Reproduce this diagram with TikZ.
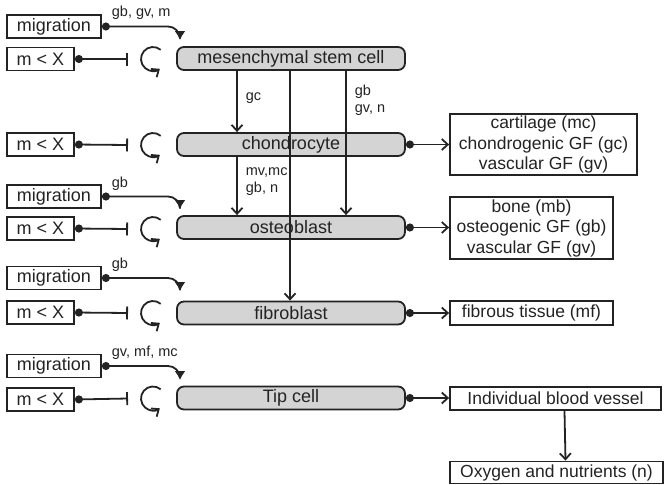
\documentclass[tikz,border=0pt]{standalone}
\usepackage{fontspec}
\setmainfont{Liberation Sans}
\usetikzlibrary{arrows.meta}

\definecolor{ink}{RGB}{35,35,35}
\definecolor{cellfill}{RGB}{212,212,212}

\begin{document}
\begin{tikzpicture}[x=1pt, y=-1pt, ink, line width=1.8pt,
  cell/.style={draw, fill=cellfill, rounded corners=7pt, minimum width=228pt, minimum height=23pt, inner sep=0pt, font=\fontsize{18}{20}\selectfont},
  cue/.style={draw, minimum height=23pt, inner sep=0pt, font=\fontsize{18}{20}\selectfont},
  product/.style={draw, align=center, inner sep=0pt, font=\fontsize{17.5}{20.5}\selectfont},
  small/.style={inner sep=0pt, anchor=base west, font=\fontsize{14.5}{17}\selectfont},
  arr/.style={-{Straight Barb[length=6pt, width=11pt]}},
  dotarr/.style={{Circle[length=8pt]}-{Straight Barb[length=6pt, width=11pt]}},
  mig/.style={{Circle[length=8pt]}-{Latex[length=9pt, width=11pt]}, rounded corners=12pt},
  inhib/.style={{Circle[length=8pt]}-{Bar[width=13pt]}},
  loopy/.style={-{Straight Barb[length=6pt, width=10pt]}}]
\useasboundingbox (0,0) rectangle (665,485);

% cells
\node[cell] (msc) at (291,58.5) {mesenchymal stem cell};
\node[cell] (chon) at (291,144.5) {chondrocyte};
\node[cell] (ost) at (291,227.5) {osteoblast};
\node[cell] (fib) at (291,313) {fibroblast};
\node[cell] (tip) at (291,398) {Tip cell};

% cues on the left
\node[cue, minimum width=94pt] (migA) at (54,26.5) {migration};
\node[cue, minimum width=67pt] (mxA) at (40.5,59) {m < X};
\node[cue, minimum width=67pt] (mxB) at (40.5,144.5) {m < X};
\node[cue, minimum width=94pt] (migC) at (54,196.5) {migration};
\node[cue, minimum width=67pt] (mxC) at (40.5,228.5) {m < X};
\node[cue, minimum width=94pt] (migD) at (54,278) {migration};
\node[cue, minimum width=67pt] (mxD) at (40.5,312.5) {m < X};
\node[cue, minimum width=94pt] (migE) at (54,366) {migration};
\node[cue, minimum width=67pt] (mxE) at (40.5,399.5) {m < X};

% products on the right
\node[product, minimum width=187pt, minimum height=61pt] (cart) at (543.5,144.5) {cartilage (mc)\\chondrogenic GF (gc)\\vascular GF (gv)};
\node[product, minimum width=163pt, minimum height=62pt] (bone) at (531.5,228) {bone (mb)\\osteogenic GF (gb)\\vascular GF (gv)};
\node[product, minimum width=163pt, minimum height=24pt] (fibt) at (531.5,313) {fibrous tissue (mf)};
\node[product, minimum width=211pt, minimum height=23pt] (vess) at (555.5,398.5) {Individual blood vessel};
\node[product, minimum width=213pt, minimum height=22pt] (oxy) at (556.5,472.5) {Oxygen and nutrients (n)};

% loops and migration targets
\coordinate (loopA) at (153,59);
\coordinate (loopB) at (153,145);
\coordinate (loopC) at (153,229);
\coordinate (loopD) at (153,313);
\coordinate (loopE) at (153,398.5);
\coordinate (inA) at (180,40);
\coordinate (inC) at (180,209);
\coordinate (inD) at (180,291);
\coordinate (inE) at (180,380);

\draw[loopy] ([shift={(-50:12)}]loopA) arc[start angle=-50, end angle=-305, radius=12];
\draw[loopy] ([shift={(-50:12)}]loopB) arc[start angle=-50, end angle=-305, radius=12];
\draw[loopy] ([shift={(-50:12)}]loopC) arc[start angle=-50, end angle=-305, radius=12];
\draw[loopy] ([shift={(-50:12)}]loopD) arc[start angle=-50, end angle=-305, radius=12];
\draw[loopy] ([shift={(-50:12)}]loopE) arc[start angle=-50, end angle=-305, radius=12];

\draw[inhib] (mxA.east) -- ([xshift=-25pt]loopA);
\draw[inhib] (mxB.east) -- ([xshift=-25pt]loopB);
\draw[inhib] (mxC.east) -- ([xshift=-25pt]loopC);
\draw[inhib] (mxD.east) -- ([xshift=-25pt]loopD);
\draw[inhib] (mxE.east) -- ([xshift=-25pt]loopE);

\draw[mig] (migA.east) -| (inA);
\draw[mig] (migC.east) -| (inC);
\draw[mig] (migD.east) -| (inD);
\draw[mig] (migE.east) -| (inE);
\node[small] (lA) at (111,16.5) {gb, gv, m};
\node[small] (lC) at (111,187) {gb};
\node[small] (lD) at (111,268.5) {gb};
\node[small] (lE) at (111,356.5) {gv, mf, mc};

% differentiation
\draw[arr] ([xshift=-54pt]msc.south) -- ([xshift=-54pt]chon.north);
\draw[arr] ([xshift=-1pt]msc.south) -- ([xshift=-1pt]fib.north);
\draw[arr] ([xshift=55pt]msc.south) -- ([xshift=55pt]ost.north);
\draw[arr] ([xshift=-54pt]chon.south) -- ([xshift=-54pt]ost.north);
\node[small] (lgc) at (245,100) {gc};
\node[small, align=left, anchor=north west] (lgb) at (354,84) {gb\\gv, n};
\node[small, align=left, anchor=north west] (lmv) at (245,167) {mv,mc\\gb, n};

% products
\draw[dotarr] (chon.east) -- (chon.east -| cart.west);
\draw[dotarr] (ost.east) -- (ost.east -| bone.west);
\draw[dotarr] (fib.east) -- (fib.east -| fibt.west);
\draw[dotarr] (tip.east) -- (tip.east -| vess.west);
\draw[arr] ([xshift=9pt]vess.south) -- ([xshift=9pt]oxy.north);
\end{tikzpicture}
\end{document}
